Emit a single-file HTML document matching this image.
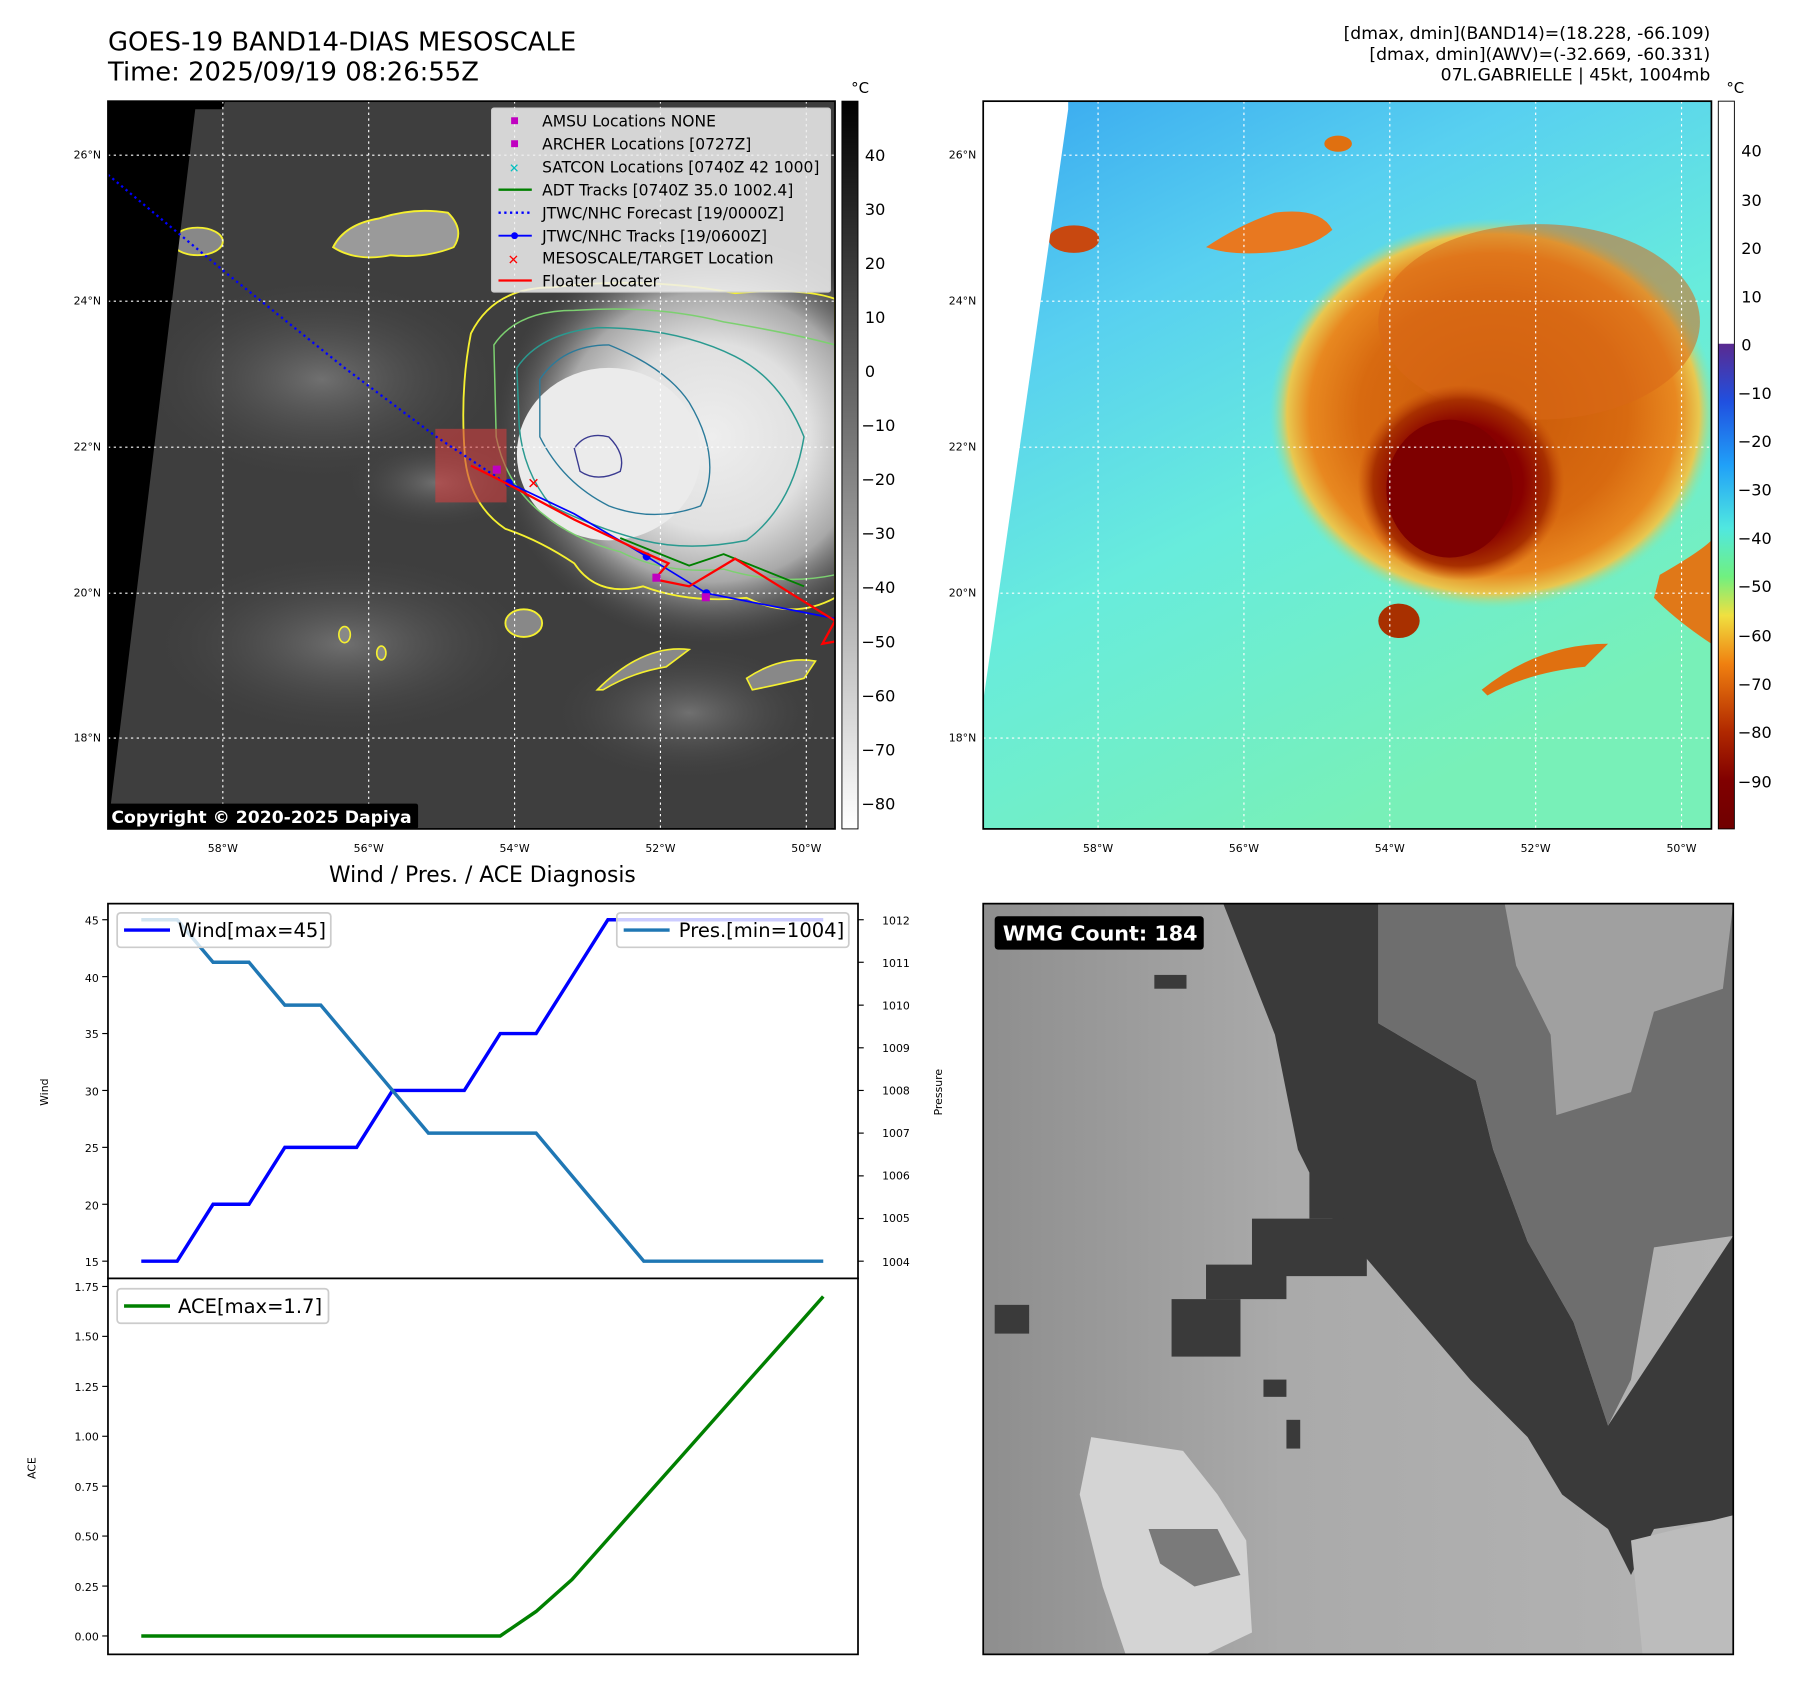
<!DOCTYPE html>
<html><head><meta charset="utf-8"><style>
html,body{margin:0;padding:0;background:#fff;}
svg{display:block;font-family:"DejaVu Sans","Liberation Sans",sans-serif;}
</style></head><body>
<svg width="1801" height="1690" viewBox="0 0 1568 1470" preserveAspectRatio="none" xmlns="http://www.w3.org/2000/svg">
<defs>
<radialGradient id="storm" cx="0.5" cy="0.5" r="0.5">
<stop offset="0" stop-color="#eeeeee"/><stop offset="0.45" stop-color="#e0e0e0"/><stop offset="0.7" stop-color="#a8a8a8"/><stop offset="1" stop-color="#505050" stop-opacity="0"/>
</radialGradient>
<radialGradient id="cloud" cx="0.5" cy="0.5" r="0.5">
<stop offset="0" stop-color="#707070"/><stop offset="1" stop-color="#404040" stop-opacity="0"/>
</radialGradient>
<radialGradient id="blob" cx="0.5" cy="0.5" r="0.5">
<stop offset="0" stop-color="#c85808"/><stop offset="0.6" stop-color="#d86a10"/><stop offset="0.82" stop-color="#e88820"/><stop offset="0.92" stop-color="#e8c850"/><stop offset="1" stop-color="#80e8b0" stop-opacity="0"/>
</radialGradient>
<radialGradient id="core" cx="0.5" cy="0.5" r="0.5">
<stop offset="0" stop-color="#7a0000"/><stop offset="0.6" stop-color="#880000"/><stop offset="0.85" stop-color="#a83000"/><stop offset="1" stop-color="#c04808" stop-opacity="0"/>
</radialGradient>
<linearGradient id="bgR" x1="0" y1="0" x2="0.5" y2="1">
<stop offset="0" stop-color="#38a8f0"/><stop offset="0.3" stop-color="#58d0f0"/><stop offset="0.6" stop-color="#68ecdc"/><stop offset="1" stop-color="#78f0b8"/>
</linearGradient>
<linearGradient id="cb1" x1="0" y1="0" x2="0" y2="1">
<stop offset="0" stop-color="#000"/><stop offset="1" stop-color="#fff"/>
</linearGradient>
<linearGradient id="cb2" x1="0" y1="0" x2="0" y2="1">
<stop offset="0" stop-color="#5a2a90"/><stop offset="0.12" stop-color="#2050e0"/><stop offset="0.25" stop-color="#20a0f8"/><stop offset="0.38" stop-color="#50e8e0"/><stop offset="0.48" stop-color="#70f080"/><stop offset="0.56" stop-color="#f0e040"/><stop offset="0.66" stop-color="#f08010"/><stop offset="0.8" stop-color="#b02800"/><stop offset="0.9" stop-color="#800000"/><stop offset="1" stop-color="#700000"/>
</linearGradient>
<linearGradient id="wmgbg" x1="0" y1="0" x2="1" y2="0">
<stop offset="0" stop-color="#8e8e8e"/><stop offset="0.4" stop-color="#aaaaaa"/><stop offset="1" stop-color="#b4b4b4"/>
</linearGradient>
<clipPath id="cL"><rect x="94" y="88" width="633" height="633"/></clipPath>
<clipPath id="cR"><rect x="856" y="88" width="634" height="633"/></clipPath>
<clipPath id="cW"><rect x="856" y="786" width="653" height="653"/></clipPath>
</defs>

<text x="94" y="44" font-size="22.5">GOES-19 BAND14-DIAS MESOSCALE</text>
<text x="94" y="70" font-size="22.5">Time: 2025/09/19 08:26:55Z</text>
<text x="1489" y="34" font-size="15" text-anchor="end">[dmax, dmin](BAND14)=(18.228, -66.109)</text>
<text x="1489" y="52" font-size="15" text-anchor="end">[dmax, dmin](AWV)=(-32.669, -60.331)</text>
<text x="1489" y="70" font-size="15" text-anchor="end">07L.GABRIELLE | 45kt, 1004mb</text>

<!-- Left map -->
<g clip-path="url(#cL)">
<rect x="94" y="88" width="633" height="633" fill="#3e3e3e"/>
<ellipse cx="280" cy="330" rx="160" ry="90" fill="url(#cloud)"/>
<ellipse cx="300" cy="560" rx="170" ry="80" fill="url(#cloud)"/>
<ellipse cx="600" cy="620" rx="120" ry="60" fill="url(#cloud)"/>
<ellipse cx="380" cy="420" rx="80" ry="40" fill="url(#cloud)"/>
<ellipse cx="620" cy="380" rx="190" ry="180" fill="url(#storm)"/>
<ellipse cx="530" cy="395" rx="80" ry="75" fill="#ebebeb"/>
<path d="M410 290 Q430 250 480 250 Q560 240 640 255 Q700 250 727 260 L727 520 Q690 540 650 520 Q600 525 560 510 Q520 520 500 490 Q470 470 440 460 Q410 440 405 400 Q400 340 410 290 Z" fill="none" stroke="#f5f030" stroke-width="1.6"/>
<path d="M430 300 Q450 270 500 270 Q570 265 630 280 Q690 290 727 300 L727 500 Q680 510 630 495 Q580 500 540 480 Q500 470 470 445 Q440 420 432 380 Z" fill="none" stroke="#7cd070" stroke-width="1.3"/>
<path d="M450 320 Q470 290 520 285 Q590 285 640 310 Q680 330 700 380 Q690 440 650 470 Q600 480 560 470 Q520 460 480 440 Q455 410 452 370 Z" fill="none" stroke="#2a9a90" stroke-width="1.3"/>
<path d="M470 330 Q490 300 530 300 Q580 320 600 350 Q630 400 610 440 Q570 455 530 440 Q490 420 470 380 Z" fill="none" stroke="#2a7a9a" stroke-width="1.2"/>
<path d="M500 390 Q510 375 530 380 Q545 395 540 410 Q520 420 505 410 Z" fill="none" stroke="#3a3a90" stroke-width="1.2"/>
<path d="M290 215 Q300 195 330 190 Q360 180 390 185 Q405 200 395 215 Q370 225 340 222 Q310 228 290 215 Z" fill="#9a9a9a" stroke="#f5f030" stroke-width="1.6"/>
<ellipse cx="172" cy="210" rx="22" ry="12" fill="#888" stroke="#f5f030" stroke-width="1.6"/>
<ellipse cx="456" cy="542" rx="16" ry="12" fill="#888" stroke="#f5f030" stroke-width="1.6"/>
<ellipse cx="300" cy="552" rx="5" ry="7" fill="#888" stroke="#f5f030" stroke-width="1.4"/>
<ellipse cx="332" cy="568" rx="4" ry="6" fill="#888" stroke="#f5f030" stroke-width="1.4"/>
<path d="M520 600 Q560 560 600 565 L580 580 Q550 585 525 600 Z" fill="#888" stroke="#f5f030" stroke-width="1.4"/>
<path d="M650 590 Q680 570 710 575 L700 590 Q680 595 655 600 Z" fill="#888" stroke="#f5f030" stroke-width="1.4"/>
<polygon points="94,88 196,88 194,95 170,95 94,720" fill="#000"/>
<g stroke="#fff" stroke-width="1" stroke-dasharray="2,3">
<line x1="194" y1="88" x2="194" y2="721"/><line x1="321" y1="88" x2="321" y2="721"/><line x1="448" y1="88" x2="448" y2="721"/><line x1="575" y1="88" x2="575" y2="721"/><line x1="702" y1="88" x2="702" y2="721"/>
<line x1="94" y1="135" x2="727" y2="135"/><line x1="94" y1="262" x2="727" y2="262"/><line x1="94" y1="389" x2="727" y2="389"/><line x1="94" y1="516" x2="727" y2="516"/><line x1="94" y1="642" x2="727" y2="642"/>
</g>
<rect x="379" y="373" width="62" height="64" fill="#d04040" fill-opacity="0.6"/>
<polyline points="94,152 200,240 300,320 380,380 440,420" fill="none" stroke="#0000ff" stroke-width="2" stroke-dasharray="2,3"/>
<polyline points="540,468 600,492 630,482 700,510" fill="none" stroke="#008000" stroke-width="1.6"/>
<polyline points="443,420 500,447 563,484 615,516 727,538" fill="none" stroke="#0000ff" stroke-width="1.5"/>
<circle cx="443" cy="420" r="3.5" fill="#0000ff"/><circle cx="563" cy="484" r="3.5" fill="#0000ff"/><circle cx="615" cy="516" r="3.5" fill="#0000ff"/>
<polyline points="410,405 440,420 500,452 555,478 582,490 570,504 600,510 640,486 727,540 716,560 727,558" fill="none" stroke="#ff0000" stroke-width="2"/>
<rect x="429" y="405" width="7" height="7" fill="#c000c0"/><rect x="568" y="499" width="7" height="7" fill="#c000c0"/><rect x="611" y="516" width="7" height="7" fill="#c000c0"/>
<text x="459" y="425" font-size="13" fill="#ff0000" font-weight="bold">✕</text>
<rect x="428" y="94" width="295" height="160" fill="#f0f0f0" fill-opacity="0.85" stroke="#ccc" rx="2"/>
<g font-size="13.5">
<rect x="445" y="102" width="6" height="6" fill="#c000c0"/><text x="472" y="110">AMSU Locations NONE</text>
<rect x="445" y="122" width="6" height="6" fill="#c000c0"/><text x="472" y="130">ARCHER Locations [0727Z]</text>
<text x="443" y="150" fill="#00c0c0" font-size="11" font-weight="bold">✕</text><text x="472" y="150">SATCON Locations [0740Z 42 1000]</text>
<line x1="434" y1="165" x2="463" y2="165" stroke="#008000" stroke-width="2"/><text x="472" y="170">ADT Tracks [0740Z 35.0 1002.4]</text>
<line x1="434" y1="185" x2="463" y2="185" stroke="#0000ff" stroke-width="2" stroke-dasharray="2,3"/><text x="472" y="190">JTWC/NHC Forecast [19/0000Z]</text>
<line x1="434" y1="205" x2="463" y2="205" stroke="#0000ff" stroke-width="1.6"/><circle cx="448" cy="205" r="3" fill="#0000ff"/><text x="472" y="210">JTWC/NHC Tracks [19/0600Z]</text>
<text x="442" y="230" fill="#ff0000" font-size="12" font-weight="bold">✕</text><text x="472" y="229">MESOSCALE/TARGET Location</text>
<line x1="434" y1="244" x2="463" y2="244" stroke="#ff0000" stroke-width="2"/><text x="472" y="249">Floater Locater</text>
</g>
</g>
<rect x="94" y="88" width="633" height="633" fill="none" stroke="#000" stroke-width="1.5"/>
<rect x="94" y="699" width="270" height="22" fill="#000" rx="2"/>
<text x="97" y="716" font-size="15" font-weight="bold" fill="#fff">Copyright © 2020-2025 Dapiya</text>
<g font-size="9.5" text-anchor="end">
<text x="88" y="138">26°N</text><text x="88" y="265">24°N</text><text x="88" y="392">22°N</text><text x="88" y="519">20°N</text><text x="88" y="645">18°N</text>
</g>
<g font-size="9.5" text-anchor="middle">
<text x="194" y="741">58°W</text><text x="321" y="741">56°W</text><text x="448" y="741">54°W</text><text x="575" y="741">52°W</text><text x="702" y="741">50°W</text>
</g>
<rect x="733" y="88" width="14" height="633" fill="url(#cb1)" stroke="#000" stroke-width="0.8"/>
<text x="741" y="81" font-size="13">°C</text>
<g font-size="14">
<text x="753" y="140">40</text><text x="753" y="187">30</text><text x="753" y="234">20</text><text x="753" y="281">10</text><text x="753" y="328">0</text>
<text x="750" y="375">−10</text><text x="750" y="422">−20</text><text x="750" y="469">−30</text><text x="750" y="516">−40</text><text x="750" y="563">−50</text><text x="750" y="610">−60</text><text x="750" y="657">−70</text><text x="750" y="704">−80</text>
</g>

<!-- Right map -->
<g clip-path="url(#cR)">
<rect x="856" y="88" width="634" height="633" fill="url(#bgR)"/>
<ellipse cx="1300" cy="360" rx="195" ry="170" fill="url(#blob)"/>
<ellipse cx="1340" cy="280" rx="140" ry="85" fill="#d86818" opacity="0.55"/>
<ellipse cx="1272" cy="420" rx="90" ry="85" fill="url(#core)"/>
<ellipse cx="1262" cy="425" rx="55" ry="60" fill="#7e0000"/>
<path d="M1050 215 Q1080 195 1110 185 Q1150 180 1160 200 Q1140 218 1100 220 Q1070 222 1050 215 Z" fill="#e87820"/>
<ellipse cx="935" cy="208" rx="22" ry="12" fill="#c84810"/>
<ellipse cx="1218" cy="540" rx="18" ry="15" fill="#a83000"/>
<ellipse cx="1165" cy="125" rx="12" ry="7" fill="#e07010"/>
<path d="M1290 600 Q1340 560 1400 560 L1380 580 Q1330 585 1295 605 Z" fill="#e07010"/>
<path d="M1445 500 Q1480 480 1490 470 L1490 560 Q1460 540 1440 520 Z" fill="#e07818"/>
<polygon points="856,88 930,88 930,95 856,610" fill="#fff"/>
<g stroke="#fff" stroke-width="1" stroke-dasharray="2,3">
<line x1="956" y1="88" x2="956" y2="721"/><line x1="1083" y1="88" x2="1083" y2="721"/><line x1="1210" y1="88" x2="1210" y2="721"/><line x1="1337" y1="88" x2="1337" y2="721"/><line x1="1464" y1="88" x2="1464" y2="721"/>
<line x1="856" y1="135" x2="1490" y2="135"/><line x1="856" y1="262" x2="1490" y2="262"/><line x1="856" y1="389" x2="1490" y2="389"/><line x1="856" y1="516" x2="1490" y2="516"/><line x1="856" y1="642" x2="1490" y2="642"/>
</g>
</g>
<rect x="856" y="88" width="634" height="633" fill="none" stroke="#000" stroke-width="1.5"/>
<g font-size="9.5" text-anchor="end">
<text x="850" y="138">26°N</text><text x="850" y="265">24°N</text><text x="850" y="392">22°N</text><text x="850" y="519">20°N</text><text x="850" y="645">18°N</text>
</g>
<g font-size="9.5" text-anchor="middle">
<text x="956" y="741">58°W</text><text x="1083" y="741">56°W</text><text x="1210" y="741">54°W</text><text x="1337" y="741">52°W</text><text x="1464" y="741">50°W</text>
</g>
<rect x="1496" y="88" width="14" height="211" fill="#fff"/>
<rect x="1496" y="299" width="14" height="422" fill="url(#cb2)"/>
<rect x="1496" y="88" width="14" height="633" fill="none" stroke="#000" stroke-width="0.8"/>
<text x="1503" y="81" font-size="13">°C</text>
<g font-size="14">
<text x="1516" y="136">40</text><text x="1516" y="179">30</text><text x="1516" y="221">20</text><text x="1516" y="263">10</text><text x="1516" y="305">0</text>
<text x="1513" y="347">−10</text><text x="1513" y="389">−20</text><text x="1513" y="431">−30</text><text x="1513" y="473">−40</text><text x="1513" y="515">−50</text><text x="1513" y="558">−60</text><text x="1513" y="600">−70</text><text x="1513" y="642">−80</text><text x="1513" y="685">−90</text>
</g>

<!-- Wind / Pres panel -->
<text x="420" y="767" font-size="19" text-anchor="middle">Wind / Pres. / ACE Diagnosis</text>
<rect x="94" y="786" width="653" height="326" fill="#fff" stroke="#000" stroke-width="1.5"/>
<polyline points="123,1097 154.25,1097 185.5,1047.5 216.75,1047.5 248,998 279.25,998 310.5,998 341.75,948.5 373,948.5 404.25,948.5 435.5,899 466.75,899 498,849.5 529.25,800 560.5,800 591.75,800 623,800 654.25,800 685.5,800 716.75,800" fill="none" stroke="#0000ff" stroke-width="3"/>
<polyline points="123,800 154.25,800 185.5,837 216.75,837 248,874.3 279.25,874.3 310.5,911.4 341.75,948.5 373,985.6 404.25,985.6 435.5,985.6 466.75,985.6 498,1022.8 529.25,1059.9 560.5,1097 591.75,1097 623,1097 654.25,1097 685.5,1097 716.75,1097" fill="none" stroke="#1f77b4" stroke-width="3"/>
<rect x="102" y="794" width="186" height="30" fill="#fff" fill-opacity="0.8" stroke="#ccc" stroke-width="1.5" rx="3"/>
<line x1="108" y1="809" x2="148" y2="809" stroke="#0000ff" stroke-width="3"/>
<text x="155" y="815" font-size="17">Wind[max=45]</text>
<rect x="537" y="794" width="202" height="30" fill="#fff" fill-opacity="0.8" stroke="#ccc" stroke-width="1.5" rx="3"/>
<line x1="543" y1="809" x2="583" y2="809" stroke="#1f77b4" stroke-width="3"/>
<text x="591" y="815" font-size="17">Pres.[min=1004]</text>
<g font-size="9.5" text-anchor="end">
<text x="86" y="804">45</text><text x="86" y="854">40</text><text x="86" y="903">35</text><text x="86" y="953">30</text><text x="86" y="1002">25</text><text x="86" y="1052">20</text><text x="86" y="1101">15</text>
</g>
<g stroke="#000" stroke-width="1">
<line x1="89" y1="800" x2="94" y2="800"/><line x1="89" y1="849.5" x2="94" y2="849.5"/><line x1="89" y1="899" x2="94" y2="899"/><line x1="89" y1="948.5" x2="94" y2="948.5"/><line x1="89" y1="998" x2="94" y2="998"/><line x1="89" y1="1047.5" x2="94" y2="1047.5"/><line x1="89" y1="1097" x2="94" y2="1097"/>
<line x1="747" y1="800" x2="752" y2="800"/><line x1="747" y1="837" x2="752" y2="837"/><line x1="747" y1="874.3" x2="752" y2="874.3"/><line x1="747" y1="911.4" x2="752" y2="911.4"/><line x1="747" y1="948.5" x2="752" y2="948.5"/><line x1="747" y1="985.6" x2="752" y2="985.6"/><line x1="747" y1="1022.8" x2="752" y2="1022.8"/><line x1="747" y1="1059.9" x2="752" y2="1059.9"/><line x1="747" y1="1097" x2="752" y2="1097"/>
</g>
<g font-size="9.5">
<text x="768" y="804">1012</text><text x="768" y="841">1011</text><text x="768" y="878">1010</text><text x="768" y="915">1009</text><text x="768" y="952">1008</text><text x="768" y="989">1007</text><text x="768" y="1026">1006</text><text x="768" y="1063">1005</text><text x="768" y="1101">1004</text>
</g>
<text transform="translate(42,950) rotate(-90)" font-size="9.5" text-anchor="middle">Wind</text>
<text transform="translate(820,950) rotate(-90)" font-size="9.5" text-anchor="middle">Pressure</text>

<!-- ACE panel -->
<rect x="94" y="1112" width="653" height="327" fill="#fff" stroke="#000" stroke-width="1.5"/>
<polyline points="123,1423 435.5,1423 466.75,1401.7 498,1373.9 529.25,1338.8 560.5,1303.6 591.75,1268.5 623,1233.3 654.25,1198.1 685.5,1163 716.75,1127.7" fill="none" stroke="#008000" stroke-width="3"/>
<rect x="102" y="1121" width="184" height="30" fill="#fff" fill-opacity="0.8" stroke="#ccc" stroke-width="1.5" rx="3"/>
<line x1="108" y1="1136" x2="148" y2="1136" stroke="#008000" stroke-width="3"/>
<text x="155" y="1142" font-size="17">ACE[max=1.7]</text>
<g font-size="9.5" text-anchor="end">
<text x="86" y="1123">1.75</text><text x="86" y="1166">1.50</text><text x="86" y="1210">1.25</text><text x="86" y="1253">1.00</text><text x="86" y="1297">0.75</text><text x="86" y="1340">0.50</text><text x="86" y="1384">0.25</text><text x="86" y="1427">0.00</text>
</g>
<g stroke="#000" stroke-width="1">
<line x1="89" y1="1119" x2="94" y2="1119"/><line x1="89" y1="1162.4" x2="94" y2="1162.4"/><line x1="89" y1="1205.9" x2="94" y2="1205.9"/><line x1="89" y1="1249.3" x2="94" y2="1249.3"/><line x1="89" y1="1292.7" x2="94" y2="1292.7"/><line x1="89" y1="1336.1" x2="94" y2="1336.1"/><line x1="89" y1="1379.6" x2="94" y2="1379.6"/><line x1="89" y1="1423" x2="94" y2="1423"/>
</g>
<text transform="translate(31,1277) rotate(-90)" font-size="9.5" text-anchor="middle">ACE</text>

<!-- WMG panel -->
<g clip-path="url(#cW)">
<rect x="856" y="786" width="653" height="653" fill="url(#wmgbg)"/>
<polygon points="950,1250 1030,1262 1060,1300 1085,1340 1090,1420 1050,1439 980,1439 960,1380 940,1300" fill="#d4d4d4"/>
<polygon points="1000,1330 1060,1330 1080,1370 1040,1380 1010,1360" fill="#7a7a7a"/>
<polygon points="1065,786 1200,786 1200,890 1285,940 1300,1000 1330,1080 1370,1150 1400,1240 1509,1075 1509,1320 1440,1330 1420,1370 1400,1330 1360,1300 1330,1250 1280,1200 1220,1130 1160,1060 1130,1000 1110,900" fill="#3a3a3a"/>
<polygon points="1200,786 1509,786 1509,1075 1440,1085 1420,1200 1400,1240 1370,1150 1330,1080 1300,1000 1285,940 1200,890" fill="#6e6e6e"/>
<polygon points="1310,786 1509,786 1500,860 1440,880 1420,950 1355,970 1350,900 1320,840" fill="#a0a0a0"/>
<rect x="1090" y="1060" width="100" height="50" fill="#3a3a3a"/>
<rect x="1140" y="1020" width="30" height="40" fill="#3a3a3a"/>
<rect x="1020" y="1130" width="60" height="50" fill="#3a3a3a"/>
<rect x="1050" y="1100" width="70" height="30" fill="#3a3a3a"/>
<rect x="866" y="1135" width="30" height="25" fill="#3a3a3a"/>
<rect x="1005" y="848" width="28" height="12" fill="#3a3a3a"/>
<rect x="1100" y="1200" width="20" height="15" fill="#3a3a3a"/>
<rect x="1120" y="1235" width="12" height="25" fill="#3a3a3a"/>
<polygon points="1420,1340 1509,1318 1509,1439 1430,1439" fill="#bcbcbc"/>
</g>
<rect x="856" y="786" width="653" height="653" fill="none" stroke="#000" stroke-width="1.5"/>
<rect x="866" y="797" width="182" height="29" fill="#000" rx="3"/>
<text x="873" y="818" font-size="18" font-weight="bold" fill="#fff">WMG Count: 184</text>
</svg>
</body></html>
